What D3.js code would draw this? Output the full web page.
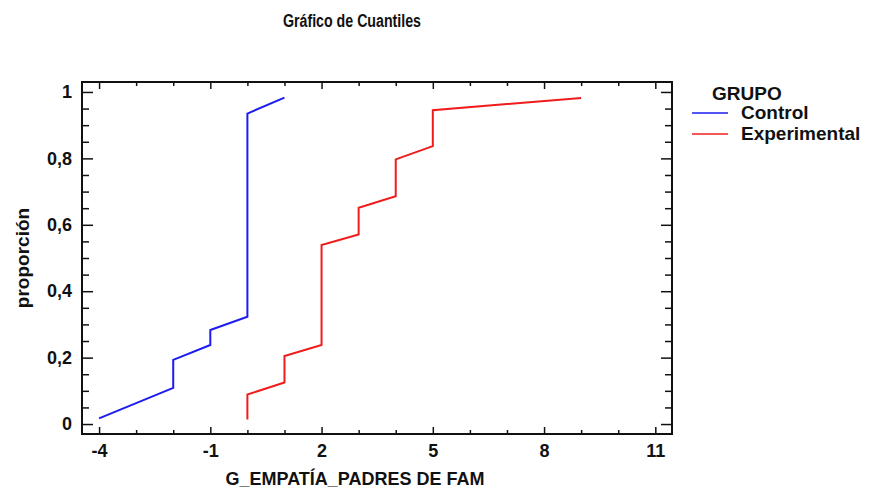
<!DOCTYPE html>
<html>
<head>
<meta charset="utf-8">
<script src="https://cdn.jsdelivr.net/npm/d3@7"></script>
<style>
  body { margin: 0; background: #fff; }
  text { font-family: "Liberation Sans", Arial, sans-serif; font-weight: bold; fill: #111; }
</style>
</head>
<body>
<div id="chart"></div>
<script>
var svgWidth = 870;
var svgHeight = 491;

var margin = { top: 82, right: 198, bottom: 57, left: 82 };
var width = svgWidth - margin.left - margin.right;
var height = svgHeight - margin.top - margin.bottom;

// quantile plot vertices (value, proportion)
var controlX = [-4, -2, -2, -1, -1, 0, 0, 1];
var controlP = [0.017, 0.109, 0.193, 0.238, 0.283, 0.323, 0.935, 0.983];

var experimentalX = [0, 0, 1, 1, 2, 2, 3, 3, 4, 4, 5, 5, 9];
var experimentalP = [0.014, 0.089, 0.125, 0.205, 0.238, 0.539, 0.571, 0.651, 0.686, 0.797, 0.837, 0.945, 0.982];

var groups = ["Control", "Experimental"];
var colors = ["#1c1cf0", "#f01c1c"];

var xMajor = [-4, -1, 2, 5, 8, 11];
var xMajorLabels = ["-4", "-1", "2", "5", "8", "11"];
var xMinor = [-3, -2, 0, 1, 3, 4, 6, 7, 9, 10];
var yMajor = [0, 0.2, 0.4, 0.6, 0.8, 1];
var yMajorLabels = ["0", "0,2", "0,4", "0,6", "0,8", "1"];
var yMinor = [0.05, 0.1, 0.15, 0.25, 0.3, 0.35, 0.45, 0.5, 0.55, 0.65, 0.7, 0.75, 0.85, 0.9, 0.95];

var svg = d3.select("#chart")
  .append("svg")
  .attr("width", svgWidth)
  .attr("height", svgHeight);

var chartGroup = svg.append("g")
  .attr("transform", `translate(${margin.left}, ${margin.top})`);

var x = d3.scaleLinear()
  .domain([-4.46, 11.45])
  .range([0, width]);

var y = d3.scaleLinear()
  .domain([-0.03, 1.03])
  .range([height, 0]);

// ticks point inward on all four sides
function addAxis(axis, transform) {
  var g = chartGroup.append("g")
    .attr("transform", transform)
    .call(axis);
  g.select(".domain").remove();
  g.selectAll(".tick line").attr("stroke", "#111").attr("stroke-width", 1.5);
  return g;
}

var xLabel = function(d) { return xMajorLabels[xMajor.indexOf(d)]; };
var yLabel = function(d) { return yMajorLabels[yMajor.indexOf(d)]; };

addAxis(d3.axisBottom(x).tickValues(xMinor).tickSize(-4).tickFormat(""), `translate(0, ${height})`);
addAxis(d3.axisTop(x).tickValues(xMinor).tickSize(-4).tickFormat(""), "translate(0, 0)");
addAxis(d3.axisTop(x).tickValues(xMajor).tickSize(-7).tickFormat(""), "translate(0, 0)");
var bottomAxis = addAxis(d3.axisBottom(x).tickValues(xMajor).tickSize(-7).tickPadding(10).tickFormat(xLabel), `translate(0, ${height})`);
bottomAxis.selectAll("text").style("font-size", "18px");

addAxis(d3.axisLeft(y).tickValues(yMinor).tickSize(-7).tickFormat(""), "translate(0, 0)");
addAxis(d3.axisRight(y).tickValues(yMinor).tickSize(-7).tickFormat(""), `translate(${width}, 0)`);
addAxis(d3.axisRight(y).tickValues(yMajor).tickSize(-11).tickFormat(""), `translate(${width}, 0)`);
var leftAxis = addAxis(d3.axisLeft(y).tickValues(yMajor).tickSize(-11).tickPadding(10).tickFormat(yLabel), "translate(0, 0)");
leftAxis.selectAll("text").style("font-size", "18px");

// frame
chartGroup.append("rect")
  .attr("width", width)
  .attr("height", height)
  .attr("fill", "none")
  .attr("stroke", "#111")
  .attr("stroke-width", 2);

// lines
var line = d3.line()
  .x(d => x(d[0]))
  .y(d => y(d[1]));

var series = [d3.zip(controlX, controlP), d3.zip(experimentalX, experimentalP)];

chartGroup.selectAll(".qline")
  .data(series)
  .enter()
  .append("path")
  .attr("class", "qline")
  .attr("d", line)
  .attr("fill", "none")
  .attr("stroke", (d, i) => colors[i])
  .attr("stroke-width", 2);

// title (condensed in the original) and axis labels
svg.append("text")
  .attr("x", 283)
  .attr("y", 27)
  .attr("textLength", 138)
  .attr("lengthAdjust", "spacingAndGlyphs")
  .style("font-size", "18px")
  .text("Gráfico de Cuantiles");

svg.append("text")
  .attr("x", 355)
  .attr("y", 485)
  .attr("text-anchor", "middle")
  .style("font-size", "18px")
  .text("G_EMPATÍA_PADRES DE FAM");

svg.append("text")
  .attr("transform", `translate(29, ${margin.top + height / 2}) rotate(-90)`)
  .attr("text-anchor", "middle")
  .style("font-size", "19px")
  .text("proporción");

// legend
var legend = svg.append("g").attr("transform", "translate(692, 0)");

legend.append("text")
  .attr("x", 20)
  .attr("y", 100)
  .style("font-size", "19px")
  .text("GRUPO");

var items = legend.selectAll(".item")
  .data(groups)
  .enter()
  .append("g")
  .attr("class", "item")
  .attr("transform", (d, i) => `translate(0, ${113 + i * 21})`);

items.append("line")
  .attr("x1", 0)
  .attr("x2", 36)
  .attr("stroke", (d, i) => colors[i])
  .attr("stroke-width", 1.5);

items.append("text")
  .attr("x", 49)
  .attr("y", 6)
  .style("font-size", "19px")
  .text(d => d);
</script>
</body>
</html>
